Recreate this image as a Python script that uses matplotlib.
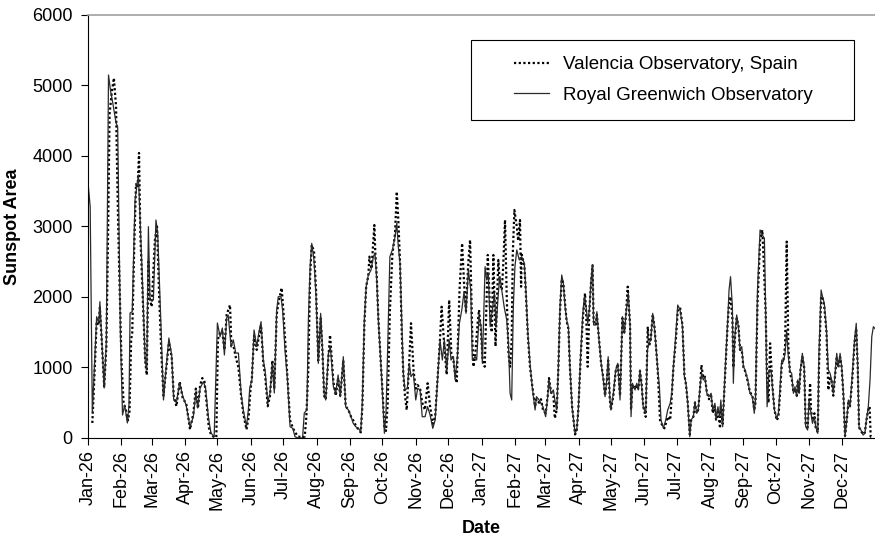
import numpy as np
import pandas as pd
import matplotlib
matplotlib.use("Agg")
import matplotlib.pyplot as plt
import matplotlib.dates as mdates
from matplotlib.patches import Rectangle

plt.rcParams["font.family"] = ["Liberation Sans", "DejaVu Sans"]

# days since 1 Jan 1926 and sunspot area
greenwich_days = [0, 2, 4, 8, 10, 11, 15, 17, 19, 21, 23, 26, 27.5, 30, 32, 34, 36.5, 38, 39, 41,
    43.6, 46.7, 49, 50, 53, 54.5, 56, 57.5, 60.6, 63, 64.6, 67.7, 70, 72, 75, 77.6, 79.5, 82, 85, 88,
    91, 94.6, 97.7, 100, 101.7, 104, 107, 109, 111.6, 114, 117, 120, 122.5, 124.6, 126.5, 128.6, 130,
    132.7, 134.8, 137, 139.5, 142, 144, 147, 148.7, 150, 152, 154, 156.5, 158.6, 160.5, 162.6, 164.2,
    166.7, 168.8, 171, 172.8, 175, 176.5, 179, 180.6, 182.7, 185, 187.4, 189.9, 192, 195, 199, 200.6,
    203, 204.4, 206, 207.5, 209.6, 211.5, 213.6, 215.8, 217.4, 219, 220.5, 223, 224.8, 227.6, 229.8,
    232, 234, 236.8, 239, 241.5, 244, 246, 248.3, 250.8, 253, 254.5, 256.3, 258, 260, 262.5, 264.7,
    266.2, 267.8, 269.3, 271.8, 273.4, 274.9, 276.4, 278, 280, 282.3, 284.8, 286.4, 287.8, 289.4, 291,
    292.5, 294, 296.2, 298, 299.6, 301.8, 304, 305.8, 308, 310, 312.6, 315, 317.3, 319.8, 322, 324.4,
    326.5, 328.7, 330.5, 332.7, 335, 336.7, 339, 340.5, 342.6, 344.5, 346.7, 348.8, 350.6, 352.8, 355,
    356.5, 359, 360.5, 362.7, 364.6, 365.8, 368.3, 369.8, 371.3, 373, 375, 377, 378.5, 380.6, 382,
    383.8, 386, 388.4, 390, 391.5, 393, 394.5, 396, 397.7, 400, 402.3, 404.7, 406, 408, 410, 412,
    414.7, 416, 418.4, 420.2, 422, 424.5, 426.4, 427.6, 429.5, 431.7, 433, 434.8, 436.3, 437.8, 439.4,
    440.9, 442.5, 444, 445.6, 447, 449, 451.8, 453.3, 454.8, 457, 459, 460.4, 462, 463.5, 465, 466.6,
    468, 469, 470.9, 472, 474, 476, 478, 479.6, 481.2, 482.5, 484, 485, 487.3, 489.5, 491.4, 493.5,
    495.7, 497.5, 499, 501.2, 502.8, 503.7, 505, 507.4, 509, 510.5, 512, 513.6, 515, 517.3, 518.9,
    520.4, 522, 523.8, 525.3, 526.6, 528.5, 530, 531.5, 533.7, 535.9, 537.7, 540, 541.5, 543, 545.3,
    547, 549.2, 551.4, 553.2, 554.7, 556.3, 558.2, 559.4, 561.5, 563, 564.6, 566, 567.7, 569.2, 570.7,
    572.2, 574, 576, 578, 579.5, 581.5, 582.6, 584.3, 585.8, 587, 588.7, 590, 591.6, 593.4, 594.6, 596,
    597.7, 598.6, 600, 601.7, 603.3, 604.8, 606.4, 608, 609.5, 612, 614, 616.3, 618, 619.1, 621, 623.4,
    625.5, 627.4, 628.6, 629.9, 631.7, 633.6, 634.8, 636.7, 638.9, 640.4, 642.2, 643.5, 645, 646.6,
    648, 649.6, 651.2, 652.7, 654.3, 655.8, 657.4, 658.3, 659.6, 660.8, 662.6, 664.3, 665.7, 667.5,
    668.8, 670.6, 672, 673.8, 675, 676.9, 678, 680, 681.3, 683, 685, 686.7, 688.3, 689.8, 691.3, 693,
    694.5, 696, 697.6, 699.1, 700.7, 702.2, 703.8, 705.3, 706.8, 709, 711, 712.6, 714, 715.2, 717, 719,
    720.6, 722, 723.8, 725.4, 727, 728.5, 730]
greenwich_area = [3617, 3281, 355, 1720, 1630, 1934, 709, 1390, 5149, 4913, 4750, 4467, 4416, 1489,
    326, 468, 213, 476, 1773, 1792, 3376, 3730, 2809, 2430, 1106, 965, 2997, 1957, 1957, 3092, 2908,
    1579, 539, 922, 1418, 1177, 539, 505, 780, 586, 468, 160, 302, 638, 426, 709, 799, 709, 302, 71,
    18, 1631, 1437, 1560, 1177, 1702, 1745, 1296, 1390, 1205, 1205, 638, 397, 160, 397, 709, 823,
    1532, 1296, 1508, 1650, 1106, 965, 515, 634, 1064, 638, 1816, 2004, 2004, 1792, 1248, 823, 160,
    137, 18, 0, 0, 355, 397, 1673, 2430, 2761, 2525, 2004, 1059, 1768, 1296, 634, 539, 1201, 1296,
    728, 634, 894, 586, 1153, 444, 397, 302, 208, 160, 137, 90, 539, 1673, 2146, 2312, 2383, 2572,
    2620, 2241, 1673, 1011, 539, 66, 355, 1296, 2572, 2667, 2856, 3045, 2714, 2478, 1673, 918, 681,
    704, 1059, 870, 918, 539, 704, 681, 302, 302, 444, 326, 137, 255, 870, 1390, 1106, 1390, 965, 1390,
    1106, 1153, 823, 1153, 1627, 1816, 2075, 1768, 2383, 2099, 1106, 1153, 1106, 1721, 1579, 1059,
    2430, 2241, 2336, 1579, 1816, 2052, 1579, 2052, 2288, 2099, 1862, 1673, 1343, 634, 539, 1862,
    2430, 2667, 2525, 2572, 2478, 2146, 1485, 1059, 728, 397, 586, 539, 492, 444, 302, 586, 823, 634,
    681, 539, 397, 1011, 1862, 2312, 2194, 1862, 1673, 1579, 1011, 444, 66, 113, 397, 1201, 1768,
    2004, 1862, 1627, 1816, 2241, 2454, 1603, 1603, 1792, 1390, 1059, 823, 586, 823, 1153, 586, 397,
    634, 965, 1059, 539, 1721, 1485, 1768, 2052, 1579, 302, 776, 681, 776, 681, 965, 728, 444, 350,
    1248, 1343, 1390, 1768, 1579, 1343, 965, 728, 255, 137, 255, 397, 492, 634, 1011, 1485, 1886,
    1816, 1579, 870, 776, 492, 18, 255, 302, 515, 350, 397, 728, 918, 823, 870, 634, 586, 634, 397,
    492, 255, 444, 302, 539, 160, 634, 1153, 1673, 2099, 2288, 1862, 776, 1437, 1745, 1579, 1248,
    1296, 1011, 965, 823, 634, 586, 350, 539, 2099, 2950, 2879, 2832, 1768, 444, 965, 965, 728, 397,
    279, 350, 776, 1106, 1083, 1201, 1532, 1153, 941, 918, 634, 728, 586, 823, 634, 965, 1201, 1011,
    160, 113, 539, 350, 208, 302, 160, 66, 1201, 2099, 2004, 1910, 1532, 965, 918, 823, 634, 918, 1201,
    1011, 1201, 1011, 634, 18, 255, 539, 444, 918, 1390, 1627, 1011, 160, 113, 42, 66, 255, 444, 823,
    1437, 1579, 1550]

valencia_days = [4, 6, 8, 10, 11, 13, 15, 17, 18.5, 20, 22, 24, 26, 27, 28, 29, 31, 33, 35, 37, 38.5,
    40, 41, 43, 44.5, 46, 47.3, 48.5, 50, 53, 54.5, 56, 57, 59, 62, 64, 66, 68, 70, 72, 75, 77.6, 79.5,
    82, 85, 88, 91, 94.6, 97.7, 100, 102, 104, 106, 108, 110, 112, 114, 117, 119, 120.5, 122.5, 124.6,
    126.5, 128.6, 131.7, 133, 135, 137, 139.5, 142, 144, 147, 149, 150.5, 152, 154, 156.5, 158.6, 160.5,
    162.6, 164.2, 166.7, 168.8, 171, 172.8, 175, 177, 179.6, 181, 183, 185, 187.4, 189.9, 192, 195, 199,
    201, 202.5, 204.4, 206, 207.5, 209.6, 211.5, 213.6, 215.8, 217.4, 219, 220.5, 223, 224.5, 227.6,
    229.8, 232, 234, 236.8, 239, 241.5, 244, 246, 248.3, 250.8, 253, 254.5, 256.3, 258, 260, 261, 263,
    265.6, 266.5, 267.8, 269.3, 271.8, 273.4, 274.9, 276.4, 278, 280, 282.3, 284.8, 286.4, 287.8,
    289.4, 291, 292.5, 294, 295.6, 298, 299.6, 302, 304, 305.8, 308, 310, 312.5, 315, 317.3, 319.8, 322,
    324.4, 326.5, 328, 330.5, 332.7, 335, 337, 339, 340.5, 342, 344.6, 347, 348.8, 350.6, 352.8, 354.4,
    356.5, 357.5, 359, 361.5, 362.7, 364.6, 366, 368, 370.8, 373, 374.5, 376, 378, 380.6, 382, 383.8,
    385, 386.8, 388.4, 390, 391.5, 393, 394, 395.5, 397.7, 399, 400.7, 401.7, 402.3, 404.7, 406, 408,
    410, 412, 414.7, 416, 418.4, 420.2, 422, 424.5, 426.4, 427.6, 429.5, 431.7, 433, 434.8, 436.3,
    437.8, 439.4, 440.9, 442.5, 444, 445.6, 447, 449, 451.8, 453.3, 454.8, 457, 459, 461, 462, 463.5,
    465, 466.6, 468, 469, 470.9, 472, 474, 476, 478, 479.6, 481.2, 482.5, 484, 485, 487.3, 489.5, 491.4,
    493.5, 495.7, 497.5, 499, 500.6, 502.8, 503.7, 505, 507.4, 509, 510.5, 512, 513.6, 515, 517.3,
    519.2, 520.4, 522, 523.8, 525.3, 526.6, 528.5, 530.6, 532, 534.6, 535.9, 537.7, 540, 541.5, 543,
    545.3, 547, 549.2, 551.4, 553.2, 554.7, 556.3, 558.2, 559.4, 561.5, 563, 564.6, 566, 567.7, 569,
    570.7, 572.2, 574, 576, 578, 579.5, 581.5, 582.6, 584.3, 586.3, 587, 588.7, 590, 591.6, 593.4,
    594.6, 596, 597.7, 598.6, 600, 601.7, 603.3, 604.8, 606.4, 608, 609.5, 612, 614, 616.3, 618, 619.1,
    621, 623.4, 625.5, 626.4, 628.6, 629.9, 631.2, 632.7, 633.6, 634.8, 636.7, 638.9, 640.4, 642.2,
    643.5, 645, 646.6, 648.1, 649.6, 651.2, 652.7, 654.3, 655.8, 657.4, 658.3, 659.6, 660.8, 662.6,
    664.3, 665.7, 667.5, 669.8, 670.6, 672, 673.8, 675, 676.9, 678, 680, 681.3, 683, 685, 686.7, 688.3,
    689.8, 691.3, 693, 694.5, 696, 697.6, 699.1, 700.7, 702.2, 703.8, 705.3, 706.8, 709, 711, 712.6,
    714, 715.2, 717, 719, 720.6, 722, 723.8, 725, 726, 727.5]
valencia_area = [213, 900, 1650, 1600, 1850, 1300, 720, 1300, 2800, 4600, 4900, 5106, 4700, 3800, 2997,
    2340, 1100, 500, 400, 250, 380, 1400, 1489, 2800, 3600, 3550, 4043, 2900, 2300, 1100, 894, 2500,
    2000, 1862, 2800, 3000, 2000, 1200, 600, 900, 1350, 1150, 600, 450, 800, 550, 500, 120, 350, 700,
    420, 750, 850, 800, 500, 150, 50, 10, 10, 1400, 1500, 1500, 1250, 1750, 1886, 1300, 1300, 1150,
    1000, 600, 350, 120, 300, 650, 850, 1450, 1250, 1450, 1600, 1050, 900, 450, 600, 1100, 700, 1750,
    1950, 2128, 1850, 1350, 850, 250, 150, 80, 20, 10, 20, 300, 1000, 2300, 2738, 2650, 2100, 1100,
    1700, 1250, 600, 550, 1150, 1461, 800, 600, 850, 600, 1100, 450, 400, 300, 250, 180, 120, 80, 450,
    1600, 2150, 2300, 2572, 2400, 3021, 2620, 2300, 1700, 1011, 600, 150, 100, 500, 1800, 2600, 2900,
    3494, 3100, 2500, 1500, 900, 600, 397, 1100, 1627, 950, 700, 750, 700, 500, 400, 776, 450, 200,
    300, 900, 1400, 1862, 1300, 900, 1957, 1200, 1100, 900, 780, 2099, 2761, 2200, 1800, 2500, 2809,
    1400, 1011, 1150, 1650, 1816, 1500, 1100, 1011, 2596, 1800, 1500, 2596, 1300, 2525, 2200, 2100,
    2400, 3092, 2000, 1200, 1011, 1400, 2600, 3234, 3000, 2800, 3092, 2146, 2600, 2450, 2100, 1450,
    1000, 750, 450, 550, 500, 550, 400, 350, 600, 850, 650, 600, 279, 400, 1000, 1800, 2250, 2200,
    1900, 1650, 1550, 1000, 450, 50, 100, 400, 1150, 1700, 2052, 1800, 1011, 1800, 2200, 2450, 1650,
    1600, 1750, 1400, 1050, 850, 600, 800, 1100, 550, 400, 600, 950, 1050, 600, 1700, 1500, 1750, 2146,
    1600, 400, 750, 700, 750, 700, 950, 750, 450, 300, 1579, 1300, 1400, 1750, 1600, 1350, 950, 255,
    200, 137, 200, 300, 255, 600, 1000, 1400, 1800, 1850, 1600, 900, 750, 500, 50, 250, 300, 500, 350,
    400, 700, 1035, 850, 870, 650, 550, 600, 350, 450, 250, 400, 137, 450, 200, 600, 1100, 1650, 1900,
    2004, 1700, 1000, 1400, 1700, 1600, 1250, 1250, 1000, 950, 800, 650, 600, 400, 500, 1900, 2800,
    2950, 2643, 1768, 800, 500, 1343, 1100, 750, 400, 250, 300, 700, 1050, 1100, 1300, 2785, 1300, 900,
    850, 650, 700, 600, 800, 650, 950, 1150, 1000, 200, 150, 776, 400, 250, 350, 150, 80, 1000, 2000,
    2004, 1850, 1500, 681, 850, 800, 600, 900, 1150, 1000, 1150, 1000, 600, 30, 250, 500, 450, 850,
    1350, 1550, 1000, 150, 100, 50, 80, 250, 400, 444, 18, 20]

start = mdates.date2num(np.datetime64("1926-01-01"))
month_ticks = pd.date_range("1926-01-01", "1927-12-01", freq="MS")

fig = plt.figure(figsize=(8.75, 5.39), dpi=100)
ax = fig.add_axes([0.1006, 0.1874, 0.8994, 0.7848])

ax.plot(start + np.array(valencia_days), valencia_area, color="black", linewidth=1.6,
        linestyle=(0, (1, 1.1)), label="Valencia Observatory, Spain")
ax.plot(start + np.array(greenwich_days), greenwich_area, color="#2a2a2a", linewidth=0.9,
        label="Royal Greenwich Observatory")

ax.set_xlim(start, start + 730)
ax.set_ylim(0, 6000)
ax.set_yticks(range(0, 6001, 1000))
ax.set_xticks(mdates.date2num(month_ticks))
ax.xaxis.set_major_formatter(mdates.DateFormatter("%b-%y"))
ax.tick_params(axis="x", labelrotation=90, labelsize=13, length=5, direction="out")
ax.tick_params(axis="y", labelsize=13, length=5, direction="out", pad=6)

ax.spines["right"].set_visible(False)
ax.spines["top"].set_color("#a0a0a0")
ax.spines["top"].set_linewidth(1.2)

ax.set_xlabel("Date", fontsize=13, fontweight="bold", labelpad=7)
ax.set_ylabel("Sunspot Area", fontsize=13, fontweight="bold", labelpad=8)

# legend box drawn separately, Excel-style wide padding
ax.add_patch(Rectangle((0.4867, 0.7518), 0.4866, 0.1891, transform=ax.transAxes,
                       facecolor="white", edgecolor="black", linewidth=0.8, zorder=4))
leg = ax.legend(loc="center left", bbox_to_anchor=(0.5413, 0.8463), fontsize=13.5,
                frameon=False, handlelength=1.85, handletextpad=0.75, labelspacing=0.72,
                borderpad=0, borderaxespad=0)
leg.set_zorder(5)

fig.savefig("out.png", dpi=100)
